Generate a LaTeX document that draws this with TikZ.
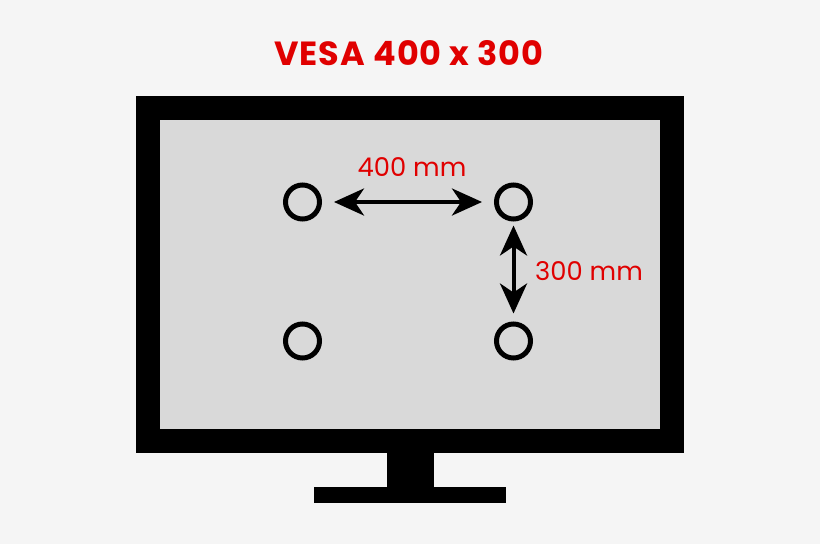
\documentclass[tikz,border=0pt]{standalone}
\usepackage{fontspec}
\setmainfont{Poppins}
\newfontfamily\titlefont[LetterSpace=3]{Poppins}
\usetikzlibrary{arrows.meta}
\definecolor{bg}{RGB}{245,245,245}
\definecolor{screen}{RGB}{217,217,217}
\definecolor{vred}{RGB}{224,0,0}
\tikzset{
  hole/.style={circle, draw=black, line width=5pt, minimum size=34pt, inner sep=0pt},
  dimarrow/.style={line width=4pt, {Stealth[length=30pt,width=27pt,inset=9pt]}-{Stealth[length=30pt,width=27pt,inset=9pt]}},
  dimlabel/.style={text=vred, font=\fontsize{25.8}{28}\selectfont, inner sep=0pt},
}
\begin{document}
\begin{tikzpicture}[x=1pt,y=-1pt]
\fill[bg] (0,0) rectangle (820,544);
\useasboundingbox (0,0) rectangle (820,544);
% title
\node[text=vred, font=\titlefont\fontsize{33.5}{36}\selectfont\bfseries, anchor=base, inner sep=0pt] (title) at (409,65) {VESA 400 x 300};
% monitor
\fill[black] (136,96) rectangle (684,453);
\fill[screen] (160,120) rectangle (660,429);
\fill[black] (387,452) rectangle (434,488);
\fill[black] (314,487) rectangle (506,503);
% holes
\node[hole] (h1) at (302.5,202) {};
\node[hole] (h2) at (513.5,202) {};
\node[hole] (h3) at (302.5,341) {};
\node[hole] (h4) at (513.5,341) {};
% arrows
\draw[dimarrow, shorten <=12pt, shorten >=12pt] (h1) -- (h2);
\draw[dimarrow, shorten <=4pt, shorten >=8pt] (h2) -- (h4);
% labels
\node[dimlabel, anchor=base] (l400) at (412,176) {400 mm};
\node[dimlabel, anchor=base west] (l300) at (535,280) {300 mm};
\end{tikzpicture}
\end{document}
